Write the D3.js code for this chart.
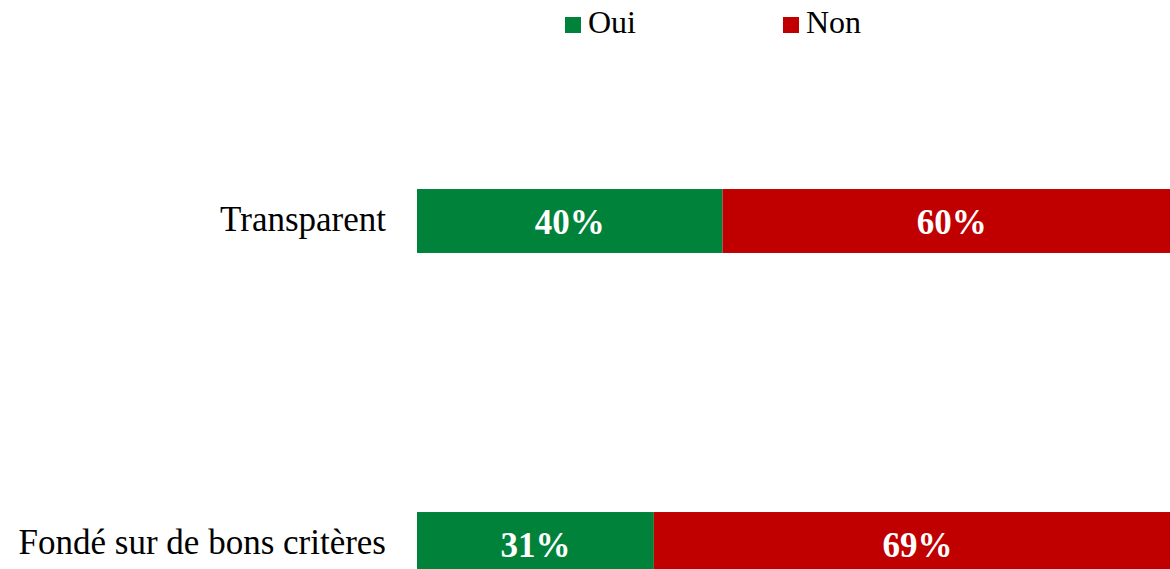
<!DOCTYPE html>
<html>
<head>
<meta charset="utf-8">
<script src="https://cdn.jsdelivr.net/npm/d3@7"></script>
<style>
  html, body { margin: 0; padding: 0; background: #fff; overflow: hidden; }
  svg { display: block; }
</style>
</head>
<body>
<svg id="chart" width="1170" height="569"></svg>
<script>
const categories = ["Transparent", "Fondé sur de bons critères"];
const seriesNames = ["Oui", "Non"];
const ouiValues = [0.40, 0.31];
const nonValues = [0.60, 0.69];
const seriesColors = ["#00823B", "#C00000"];

const W = 1170, H = 569;
const svg = d3.select("#chart");
const fontFam = "'Liberation Serif', 'Times New Roman', serif";

const x = d3.scaleLinear().domain([0, 1]).range([417, 1181]);
const y = d3.scaleBand().domain(categories).range([59.5, 705.5])
  .paddingInner(0.802).paddingOuter(0.401);

const rows = categories.map((c, i) => ({ cat: c, vals: [ouiValues[i], nonValues[i]] }));

rows.forEach(r => {
  let cum = 0;
  r.vals.forEach((v, j) => {
    const x0 = x(cum), x1 = x(cum + v);
    svg.append("rect")
      .attr("x", x0).attr("y", y(r.cat))
      .attr("width", x1 - x0).attr("height", y.bandwidth())
      .attr("fill", seriesColors[j]);
    svg.append("text")
      .attr("x", (x0 + Math.min(x1, W + 11)) / 2)
      .attr("y", y(r.cat) + y.bandwidth() / 2 + 12.5)
      .attr("text-anchor", "middle")
      .attr("font-family", fontFam)
      .attr("font-weight", "bold")
      .attr("font-size", 35)
      .attr("fill", "#fff")
      .text(d3.format(".0%")(v));
    cum += v;
  });
});

// category axis labels
const yAxis = d3.axisLeft(y).tickSize(0).tickPadding(31);
const gy = svg.append("g").attr("transform", "translate(417,0)").call(yAxis);
gy.select(".domain").remove();
gy.selectAll("text")
  .attr("font-family", fontFam)
  .attr("font-size", 35)
  .attr("fill", "#000")
  .attr("dy", "0.28em");

// legend
const legendX = [565, 783];
seriesNames.forEach((s, i) => {
  svg.append("rect")
    .attr("x", legendX[i]).attr("y", 17)
    .attr("width", 16).attr("height", 16)
    .attr("fill", seriesColors[i]);
  svg.append("text")
    .attr("x", legendX[i] + 23).attr("y", 33)
    .attr("font-family", fontFam)
    .attr("font-size", 32)
    .attr("fill", "#000")
    .text(s);
});
</script>
</body>
</html>
